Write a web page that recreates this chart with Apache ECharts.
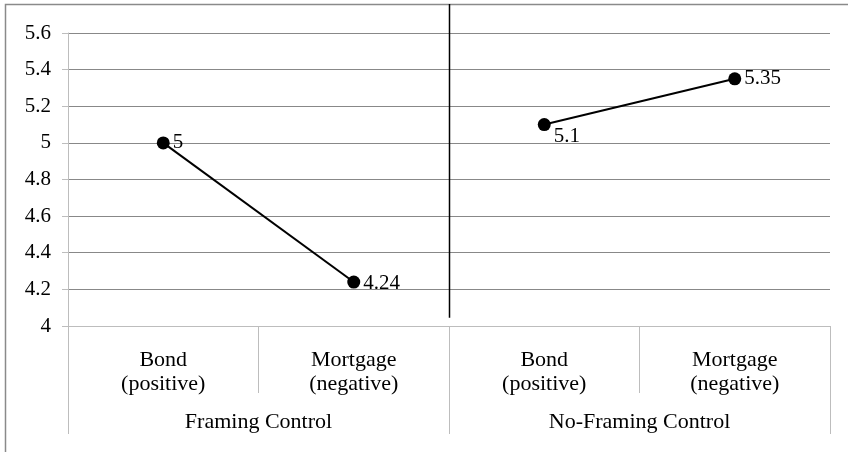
<!DOCTYPE html>
<html>
<head>
<meta charset="utf-8">
<script src="https://cdn.jsdelivr.net/npm/echarts@6/dist/echarts.min.js"></script>
<style>
  html, body { margin: 0; padding: 0; background: #fff; }
  #chart { width: 848px; height: 452px; }
</style>
</head>
<body>
<div id="chart"></div>
<script>
// Item-level categories and their group labels
const items = ['Bond\n(positive)', 'Mortgage\n(negative)', 'Bond\n(positive)', 'Mortgage\n(negative)'];
const groups = ['Framing Control', 'No-Framing Control'];
// Mean ratings per group
const framingValues = [5, 4.24, null, null];
const noFramingValues = [null, null, 5.1, 5.35];
// Y-axis range
const yMin = 4, yMax = 5.6, yStep = 0.2;

const serif = '"Liberation Serif", "Times New Roman", serif';
const chart = echarts.init(document.getElementById('chart'));

function lineSeries(data, labelOffsets) {
  return {
    type: 'line',
    data: data.map((v, i) => v == null ? null : {
      value: v,
      label: { offset: labelOffsets[i] || [0, 0] }
    }),
    connectNulls: false,
    symbol: 'circle',
    symbolSize: 13,
    itemStyle: { color: '#000' },
    lineStyle: { color: '#000', width: 2 },
    label: {
      show: true,
      position: 'right',
      distance: 3,
      color: '#000',
      fontFamily: serif,
      fontSize: 21
    },
    z: 5
  };
}

chart.setOption({
  animation: false,
  grid: { left: 68, right: 18, top: 33, bottom: 126 },
  xAxis: [
    {
      type: 'category',
      data: items,
      boundaryGap: true,
      axisLine: { show: true, lineStyle: { color: '#bdbdbd', width: 1 } },
      axisTick: { show: true, length: 67, lineStyle: { color: '#bdbdbd', width: 1 } },
      axisLabel: {
        margin: 22,
        color: '#000',
        fontFamily: serif,
        fontSize: 22,
        lineHeight: 24,
        interval: 0
      }
    },
    {
      type: 'category',
      data: groups,
      position: 'bottom',
      boundaryGap: true,
      axisLine: { show: false },
      axisTick: { show: true, length: 108, lineStyle: { color: '#bdbdbd', width: 1 } },
      axisLabel: {
        margin: 85,
        color: '#000',
        fontFamily: serif,
        fontSize: 22,
        interval: 0
      }
    }
  ],
  yAxis: {
    type: 'value',
    min: yMin,
    max: yMax,
    interval: yStep,
    axisLine: { show: true, lineStyle: { color: '#bdbdbd', width: 1 } },
    axisTick: { show: true, length: 6, lineStyle: { color: '#bdbdbd' } },
    splitLine: { lineStyle: { color: '#888888', width: 1 } },
    axisLabel: {
      margin: 17,
      color: '#000',
      fontFamily: serif,
      fontSize: 21,
      formatter: v => String(Math.round(v * 10) / 10)
    }
  },
  series: [
    lineSeries(framingValues, [[0, 0], [0, 1]]),
    lineSeries(noFramingValues, [null, null, [0, 12], [0, 0]])
  ]
});

// Frame and the divider between the two groups, placed from the axis scales
const x1 = chart.convertToPixel({ xAxisIndex: 0 }, 1);
const x2 = chart.convertToPixel({ xAxisIndex: 0 }, 2);
const dividerX = Math.round((x1 + x2) / 2) + 0.5;
const dividerBottom = chart.convertToPixel({ yAxisIndex: 0 }, 4.045);

chart.setOption({
  graphic: [
    {
      type: 'polyline',
      shape: { points: [[5.5, 452], [5.5, 4.5], [848, 4.5]] },
      style: { stroke: '#8a8a8a', lineWidth: 1.5, fill: null },
      silent: true
    },
    {
      type: 'line',
      shape: { x1: dividerX, y1: 4, x2: dividerX, y2: dividerBottom },
      style: { stroke: '#000', lineWidth: 1.5 },
      silent: true,
      z: 10
    }
  ]
});
</script>
</body>
</html>
